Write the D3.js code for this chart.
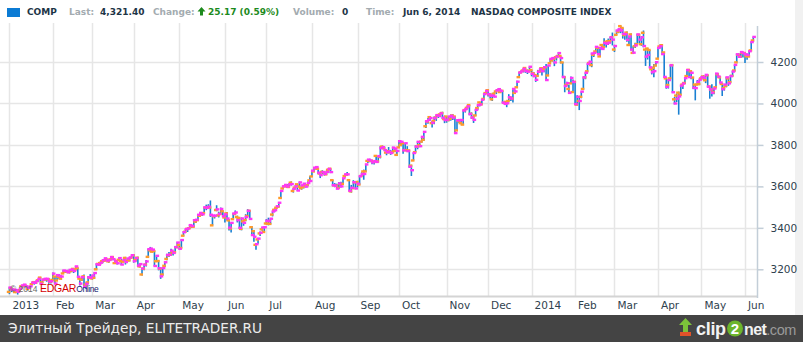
<!DOCTYPE html>
<html><head><meta charset="utf-8">
<script src="https://cdn.jsdelivr.net/npm/d3@7"></script>
<style>html,body{margin:0;padding:0;background:#fff;overflow:hidden}</style>
</head><body><svg id="c" width="803" height="342"></svg>
<script>
// ---------- DATA ----------
const firstDay = "2013-01-02";
const lastDay = "2014-06-06";
const holidays = ["2013-01-21","2013-02-18","2013-03-29","2013-05-27","2013-07-04","2013-09-02","2013-11-28","2013-12-25","2014-01-01","2014-01-20","2014-02-17","2014-04-18","2014-05-26"];
const monthNames = ["Jan","Feb","Mar","Apr","May","Jun","Jul","Aug","Sep","Oct","Nov","Dec"];
const yTicks = [3200,3400,3600,3800,4000,4200];

const opens = [
3091,3108,3101,3090,3094,3100,3118,3120,3121,3105,3110,3128,3138,3135,3147,3160,3137,3150,3152,3152,3140,
3149,3165,3146,3164,3155,3180,3189,3190,3186,3192,3202,3199,3206,3155,3150,3166,3126,3137,3160,
3156,3159,3200,3226,3230,3239,3241,3248,3238,3248,3259,3230,3240,3246,3240,3237,3255,3241,3243,3256,
3268,3245,3256,3214,3175,3203,3223,3260,3292,3285,3288,3239,3240,3203,3175,3217,3250,3267,3272,3284,3282,3307,
3318,3303,3362,3381,3395,3398,3408,3405,3430,3437,3458,3465,3471,3497,3500,3498,3412,3456,3486,3460,3467,3480,
3450,3470,3436,3397,3442,3467,3452,3448,3395,3431,3438,3457,3482,3403,3384,3318,3344,3373,3393,3380,
3421,3420,3419,3464,3487,3497,3502,3544,3590,3600,3602,3597,3618,3578,3594,3610,3599,3591,3597,3605,3606,3629,
3648,3672,3688,3685,3662,3670,3668,3658,3680,3685,3630,3605,3604,3593,3611,3612,3650,3656,3630,3576,3591,3620,
3621,3609,3650,3672,3672,3723,3723,3724,3718,3747,3720,3743,3792,3784,3763,3770,3765,3764,3770,3752,
3788,3800,3808,3775,3775,3773,3700,3725,3765,3792,3799,3816,3825,3890,3913,3934,3905,3916,3932,3944,3947,3954,3925,
3937,3920,3926,3942,3937,3870,3917,3905,3898,3968,3979,3992,3950,3933,3942,3978,4005,3996,4022,4050,
4064,4044,4020,4047,4058,4064,4055,4061,4003,4008,4012,4028,4024,4051,4078,4127,4150,4159,4171,4159,4155,
4161,4146,4137,4133,4154,4170,4166,4175,4135,4194,4207,4216,4223,4229,4229,4198,4127,4090,4070,4097,4055,
4104,3994,4012,4032,4070,4126,4155,4195,4185,4235,4251,4268,4227,4282,4272,4297,4300,4301,4320,
4260,4331,4346,4373,4364,4330,4342,4282,4333,4244,4276,4286,4331,4286,4341,4260,4265,4258,4165,4172,4183,
4216,4275,4281,4246,4121,4089,4121,4185,4020,4038,4052,4042,4091,4099,4132,4162,4155,4125,4091,4091,4094,
4121,4130,4112,4136,4082,4067,4055,4078,4140,4126,4094,4074,4085,4121,4103,4133,4159,4198,4235,4225,4244,
4243,4228,4227,4256,4304];
const highs = [
3113,3110,3107,3100,3096,3112,3124,3127,3122,3117,3120,3138,3140,3145,3155,3162,3152,3158,3158,3157,3150,
3184,3168,3176,3176,3171,3197,3194,3197,3200,3202,3202,3216,3207,3157,3164,3175,3136,3166,3177,
3174,3186,3228,3228,3238,3245,3255,3251,3249,3259,3260,3247,3245,3259,3249,3247,3260,3254,3259,3270,
3272,3258,3260,3230,3206,3223,3245,3299,3308,3297,3290,3268,3245,3210,3210,3237,3275,3284,3299,3289,3313,3330,
3322,3345,3383,3394,3400,3414,3415,3438,3441,3465,3474,3472,3499,3512,3514,3532,3459,3462,3509,3478,3498,3484,
3466,3476,3440,3424,3470,3484,3459,3448,3450,3436,3466,3490,3484,3408,3389,3325,3350,3382,3404,3406,
3442,3449,3446,3479,3494,3507,3522,3578,3601,3611,3611,3614,3624,3590,3605,3612,3623,3608,3614,3607,3624,3649,
3676,3690,3696,3688,3663,3678,3670,3674,3689,3686,3631,3616,3613,3621,3622,3640,3659,3669,3633,3607,3630,3621,
3627,3651,3668,3681,3707,3730,3733,3726,3724,3750,3747,3795,3797,3793,3775,3790,3776,3791,3786,3775,
3821,3817,3811,3809,3794,3777,3704,3762,3799,3817,3818,3839,3864,3915,3930,3940,3917,3937,3944,3949,3953,3960,3941,
3939,3937,3947,3948,3938,3920,3920,3922,3966,3974,3987,3993,3957,3945,3972,3992,4008,4019,4045,4064,
4069,4049,4049,4054,4064,4073,4070,4062,4012,4012,4045,4034,4071,4066,4109,4149,4158,4167,4171,4163,4177,
4161,4152,4139,4162,4172,4171,4175,4190,4183,4215,4220,4220,4231,4247,4230,4200,4130,4105,4090,4130,4116,
4104,4040,4029,4057,4126,4149,4192,4206,4241,4244,4275,4271,4268,4285,4315,4298,4313,4321,4342,
4283,4352,4362,4372,4365,4337,4347,4324,4337,4276,4293,4334,4335,4325,4352,4263,4268,4258,4177,4190,4203,
4268,4285,4285,4250,4126,4117,4184,4188,4031,4048,4057,4089,4101,4123,4166,4163,4159,4126,4093,4113,4115,
4133,4136,4138,4138,4083,4093,4075,4144,4144,4129,4098,4091,4127,4125,4138,4158,4186,4237,4242,4248,4250,
4246,4241,4254,4297,4321];
const lows = [
3080,3090,3088,3085,3078,3096,3105,3114,3111,3098,3106,3126,3126,3129,3139,3128,3135,3143,3140,3130,3131,
3148,3130,3146,3152,3150,3178,3183,3182,3180,3186,3182,3195,3160,3122,3144,3115,3105,3130,3158,
3150,3155,3199,3217,3224,3230,3238,3238,3232,3244,3244,3227,3223,3243,3221,3234,3223,3238,3238,3254,
3232,3236,3212,3209,3170,3195,3213,3258,3284,3281,3214,3239,3195,3154,3170,3210,3244,3259,3265,3266,3281,3302,
3296,3302,3360,3376,3380,3395,3399,3404,3423,3436,3455,3457,3471,3485,3492,3453,3420,3445,3480,3450,3463,3455,
3426,3435,3387,3378,3440,3461,3426,3396,3388,3410,3432,3457,3441,3363,3333,3294,3323,3361,3386,3378,
3416,3412,3417,3455,3476,3492,3500,3541,3586,3597,3592,3594,3604,3570,3590,3578,3598,3584,3590,3595,3601,3625,
3645,3669,3680,3658,3640,3660,3652,3655,3664,3664,3601,3596,3589,3590,3595,3612,3643,3656,3576,3570,3591,3586,
3595,3608,3647,3632,3670,3713,3717,3707,3706,3716,3720,3735,3783,3770,3750,3759,3752,3763,3766,3747,
3785,3793,3758,3771,3768,3690,3650,3725,3765,3779,3789,3811,3820,3882,3902,3916,3884,3900,3916,3930,3934,3924,3905,
3907,3914,3917,3920,3856,3870,3906,3900,3897,3956,3972,3943,3925,3906,3940,3968,3986,3996,4020,4050,
4034,4024,4012,4029,4045,4060,4051,4002,3994,3982,4011,4012,4005,4046,4078,4124,4148,4150,4148,4142,4152,
4131,4127,4104,4130,4150,4135,4150,4110,4141,4194,4203,4180,4207,4229,4193,4127,4054,4082,4050,4094,4053,
3993,3993,3968,4025,4067,4117,4153,4190,4175,4224,4245,4234,4225,4262,4272,4270,4282,4290,4280,
4248,4331,4339,4339,4313,4307,4298,4280,4255,4242,4268,4285,4290,4278,4271,4181,4212,4171,4140,4127,4180,
4216,4265,4234,4124,4071,4072,4118,4052,3996,4007,3946,4042,4070,4094,4132,4125,4117,4069,4015,4091,4088,
4116,4112,4098,4080,4023,4033,4045,4078,4124,4099,4036,4062,4078,4085,4100,4131,4154,4198,4221,4221,4222,
4195,4211,4223,4255,4298];
const closes = [
3112,3101,3102,3099,3092,3106,3122,3126,3118,3111,3118,3136,3135,3143,3154,3130,3150,3154,3154,3142,3142,
3179,3131,3172,3168,3165,3194,3192,3186,3197,3199,3192,3214,3164,3131,3162,3116,3130,3162,3160,
3170,3182,3224,3222,3232,3244,3253,3242,3245,3259,3249,3238,3229,3254,3223,3245,3235,3252,3257,3268,
3239,3254,3218,3225,3204,3222,3238,3297,3300,3295,3216,3265,3205,3166,3206,3234,3269,3270,3290,3279,3307,3329,
3299,3341,3379,3393,3397,3413,3409,3437,3439,3463,3472,3465,3499,3496,3502,3463,3459,3459,3489,3467,3491,3456,
3465,3445,3401,3424,3469,3474,3437,3400,3445,3424,3452,3482,3443,3365,3357,3321,3348,3376,3402,3403,
3434,3433,3444,3479,3485,3504,3521,3578,3600,3607,3599,3610,3611,3588,3600,3580,3619,3605,3613,3599,3616,3626,
3676,3690,3693,3666,3654,3669,3660,3670,3684,3669,3606,3603,3589,3614,3600,3639,3658,3658,3579,3593,3620,3590,
3613,3649,3659,3660,3706,3729,3725,3716,3722,3718,3746,3784,3789,3775,3765,3768,3761,3787,3782,3771,
3818,3815,3774,3808,3770,3695,3678,3761,3792,3815,3794,3839,3863,3914,3920,3930,3907,3929,3943,3940,3952,3931,3920,
3922,3937,3940,3932,3857,3919,3920,3920,3966,3973,3986,3949,3932,3921,3969,3992,3995,4018,4045,4060,
4045,4037,4038,4033,4063,4069,4060,4004,3998,4001,4030,4024,4070,4058,4105,4149,4155,4167,4157,4154,4177,
4143,4132,4114,4153,4166,4156,4175,4113,4183,4215,4219,4198,4226,4243,4219,4128,4084,4098,4051,4123,4104,
3997,4032,4012,4057,4126,4148,4191,4201,4241,4244,4273,4238,4268,4263,4292,4288,4293,4319,4308,
4277,4352,4358,4352,4336,4334,4307,4323,4260,4245,4280,4333,4308,4319,4277,4226,4234,4174,4151,4156,4199,
4268,4276,4238,4128,4080,4113,4184,4054,4000,4023,4034,4086,4096,4122,4161,4127,4148,4076,4074,4104,4115,
4127,4124,4138,4081,4068,4052,4072,4144,4130,4101,4069,4091,4126,4097,4132,4154,4186,4237,4225,4248,4243,
4237,4234,4252,4296,4321];

const headerItems = [
  {t:"COMP", k:"val"}, {t:"Last:", k:"lab"}, {t:"4,321.40", k:"val"}, {t:"Change:", k:"lab"},
  {t:"25.17 (0.59%)", k:"up"}, {t:"Volume:", k:"lab"}, {t:"0", k:"val"}, {t:"Time:", k:"lab"},
  {t:"Jun 6, 2014", k:"val"}, {t:"NASDAQ COMPOSITE INDEX", k:"val"}];
const headerX = [27, 69, 100, 153, 208, 293, 342, 366, 403, 471];
const footerText = "Элитный Трейдер, ELITETRADER.RU";

// ---------- TRADING DAYS ----------
const fmt = d3.utcFormat("%Y-%m-%d");
const hol = new Set(holidays);
const days = d3.utcDays(new Date(firstDay+"T00:00Z"), d3.utcDay.offset(new Date(lastDay+"T00:00Z"),1))
  .filter(d => d.getUTCDay()!==0 && d.getUTCDay()!==6 && !hol.has(fmt(d)));
const n = Math.min(days.length, closes.length, opens.length, highs.length, lows.length);
const data = d3.range(n).map(i => ({i, date:days[i], o:opens[i], h:highs[i], l:lows[i], c:closes[i]}));

// ---------- LAYOUT ----------
const svg = d3.select("#c");
const plotL = 0, plotR = 757, plotT = 23, plotB = 296;
const x = d3.scaleLinear().domain([0, n-1]).range([9.4, 753.3]);
const y = d3.scaleLinear().domain([3200, 4200]).range([269.3, 62]);

// right light strip
svg.append("rect").attr("x",795).attr("y",0).attr("width",8).attr("height",315).attr("fill","#f1f1f1");

// month starts
const monthStarts = data.filter((d,k) => k===0 || d.date.getUTCMonth()!==data[k-1].date.getUTCMonth());

// grid
const g = svg.append("g");
g.selectAll(".hg").data(yTicks).join("line")
  .attr("x1",plotL).attr("x2",plotR).attr("y1",d=>Math.round(y(d))+0.5).attr("y2",d=>Math.round(y(d))+0.5)
  .attr("stroke","#e6e6e6").attr("stroke-width",1.5);
g.selectAll(".vg").data(monthStarts).join("line")
  .attr("x1",d=>Math.round(x(d.i))+0.5).attr("x2",d=>Math.round(x(d.i))+0.5)
  .attr("y1",plotT).attr("y2",plotB).attr("stroke","#e6e6e6").attr("stroke-width",1.5);
g.append("line").attr("x1",plotL).attr("x2",plotR).attr("y1",plotB+0.5).attr("y2",plotB+0.5)
  .attr("stroke","#d4d4d4").attr("stroke-width",2);

// bars
const bars = svg.append("g");
bars.selectAll(".hl").data(data).join("line")
  .attr("x1",d=>x(d.i)).attr("x2",d=>x(d.i))
  .attr("y1",d=>y(Math.max(d.h,d.o,d.c))).attr("y2",d=>y(Math.min(d.l,d.o,d.c)))
  .attr("stroke","#1a80d2").attr("stroke-width",1.6);
bars.selectAll(".op").data(data).join("line")
  .attr("x1",d=>x(d.i)-2.6).attr("x2",d=>x(d.i)+1)
  .attr("y1",d=>y(d.o)).attr("y2",d=>y(d.o))
  .attr("stroke","#ff9a2a").attr("stroke-width",2.4);
bars.selectAll(".cl").data(data).join("line")
  .attr("x1",d=>x(d.i)-1).attr("x2",d=>x(d.i)+2.6)
  .attr("y1",d=>y(d.c)).attr("y2",d=>y(d.c))
  .attr("stroke","#ff36f5").attr("stroke-width",2.4);

// copyright
const cp = svg.append("text").attr("x",10).attr("y",292).attr("font-family","Arial, 'Liberation Sans', sans-serif");
cp.append("tspan").attr("font-size",8.5).attr("fill","#6a6a6a").text("© 2014 ");
cp.append("tspan").attr("font-size",10.5).attr("fill","#d40000").attr("letter-spacing",-0.2).text("EDGAR");
cp.append("tspan").attr("font-size",8.5).attr("fill","#14206e").attr("letter-spacing",-0.4).text("Online");

// right axis
const ya = svg.append("g").attr("transform",`translate(${plotR+0.5},0)`)
  .call(d3.axisRight(y).tickValues(yTicks).tickSize(6).tickPadding(7).tickFormat(d3.format("d")));
ya.select(".domain").remove();
ya.selectAll(".tick line").attr("stroke","#c3ced8").attr("stroke-width",1.5);
ya.selectAll(".tick text").attr("font-family","'DejaVu Sans', Verdana, sans-serif").attr("font-size",10.5).attr("fill","#2f424e");
svg.append("line").attr("x1",plotR+0.5).attr("x2",plotR+0.5).attr("y1",plotT+3).attr("y2",plotB+2)
  .attr("stroke","#c3ced8").attr("stroke-width",1.5);

// x labels
svg.selectAll(".xl").data(monthStarts).join("text")
  .attr("x",d=>x(d.i)+3).attr("y",309)
  .attr("font-family","'DejaVu Sans', Verdana, sans-serif").attr("font-size",10.5).attr("fill","#2f424e")
  .text(d => d.date.getUTCMonth()===0 ? String(d.date.getUTCFullYear()) : monthNames[d.date.getUTCMonth()]);

// header
svg.append("rect").attr("x",7).attr("y",8).attr("width",13).attr("height",9).attr("fill","#0b7bd4");
const colors = {val:"#1d3446", lab:"#a3abb0", up:"#1d8a1d"};
svg.selectAll(".hd").data(headerItems).join("text")
  .attr("x",(d,k)=>headerX[k]).attr("y",15)
  .attr("font-family","'DejaVu Sans', Verdana, sans-serif").attr("font-weight","bold").attr("font-size",9)
  .attr("fill",d=>colors[d.k]).text(d=>d.t);
svg.append("path").attr("d","M201.5,7 L205.5,11.5 L203,11.5 L203,15.5 L200,15.5 L200,11.5 L197.5,11.5 Z").attr("fill","#1d8a1d");

// footer
svg.append("rect").attr("x",0).attr("y",315).attr("width",803).attr("height",27).attr("fill","#444444");
svg.append("text").attr("x",8).attr("y",333).attr("font-family","'DejaVu Sans', Verdana, sans-serif")
  .attr("font-size",13.7).attr("fill","#ececec").text(footerText);
// clip2net logo
const lg = svg.append("g");
lg.append("rect").attr("x",680).attr("y",332).attr("width",11).attr("height",4).attr("fill","#e0522a");
lg.append("path").attr("d","M685.5,318 L692,325 L688,325 L688,332 L683,332 L683,325 L679,325 Z").attr("fill","#7cc23a");
lg.append("text").attr("x",696).attr("y",335).attr("font-family","'Liberation Sans', Arial, sans-serif")
  .attr("font-size",18).attr("font-weight","bold").attr("letter-spacing",-0.3).attr("fill","#f2f2f2").text("clip");
lg.append("circle").attr("cx",735).attr("cy",328.5).attr("r",8).attr("fill","#6cb52c");
lg.append("text").attr("x",735).attr("y",334).attr("text-anchor","middle").attr("font-family","'Liberation Sans', Arial, sans-serif")
  .attr("font-size",15).attr("font-weight","bold").attr("fill","#fff").text("2");
const lt2 = lg.append("text").attr("x",744).attr("y",335).attr("font-family","'Liberation Sans', Arial, sans-serif");
lt2.append("tspan").attr("font-size",16).attr("font-weight","bold").attr("letter-spacing",-0.6).attr("fill","#f2f2f2").text("net");
lt2.append("tspan").attr("font-size",14.5).attr("letter-spacing",-0.4).attr("fill","#9a9a9a").text(".com");
</script></body></html>
